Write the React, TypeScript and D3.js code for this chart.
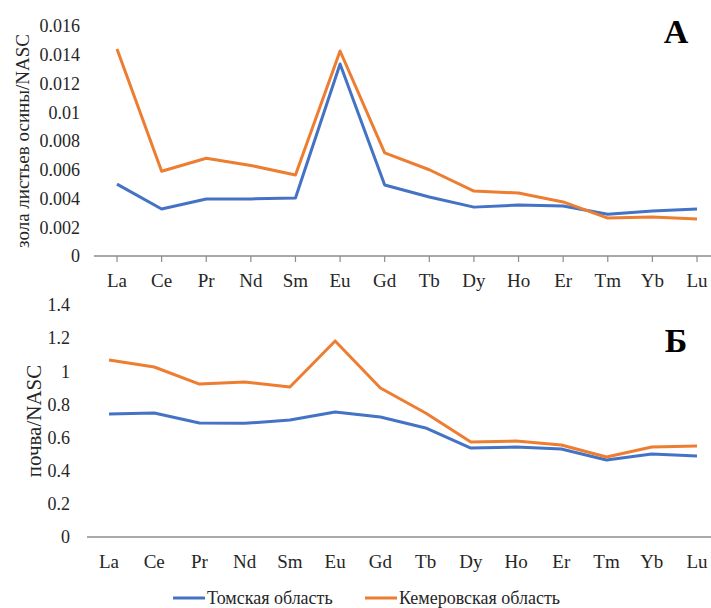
import React from 'react';
import * as d3 from 'd3';

const elements = ['La', 'Ce', 'Pr', 'Nd', 'Sm', 'Eu', 'Gd', 'Tb', 'Dy', 'Ho', 'Er', 'Tm', 'Yb', 'Lu'];

// зола листьев осины / NASC
const ashTomsk = [0.0050, 0.00327, 0.00397, 0.00397, 0.00403, 0.01336, 0.00494, 0.0041, 0.0034, 0.00355, 0.00348, 0.0029, 0.00313, 0.00327];
const ashKemerovo = [0.0144, 0.0059, 0.0068, 0.0063, 0.00563, 0.01426, 0.00717, 0.0060, 0.00452, 0.00438, 0.00376, 0.00264, 0.00271, 0.00257];
const ashTicks = [0, 0.002, 0.004, 0.006, 0.008, 0.01, 0.012, 0.014, 0.016];

// почва / NASC
const soilTomsk = [0.742, 0.748, 0.688, 0.686, 0.706, 0.754, 0.724, 0.658, 0.537, 0.543, 0.531, 0.465, 0.501, 0.489];
const soilKemerovo = [1.068, 1.026, 0.923, 0.935, 0.905, 1.183, 0.899, 0.748, 0.573, 0.579, 0.555, 0.483, 0.543, 0.549];
const soilTicks = [0, 0.2, 0.4, 0.6, 0.8, 1, 1.2, 1.4];

const seriesNames = ['Томская область', 'Кемеровская область'];
const BLUE = '#4472C4';
const ORANGE = '#ED7D31';
const FONT = '"Liberation Serif", "Times New Roman", serif';
const TEXT = '#262626';

interface PanelProps {
  blue: number[];
  orange: number[];
  ticks: number[];
  yMax: number;
  xRange: [number, number];
  yRange: [number, number];
  axisLeft: number;
  labelRight: number;
  title: string;
  titleX: number;
  titleSize: number;
  letter: string;
  letterY: number;
  showTicks: boolean;
  fmt: (v: number) => string;
}

const Panel = ({ blue, orange, ticks, yMax, xRange, yRange, axisLeft, labelRight, title, titleX, titleSize, letter, letterY, showTicks, fmt }: PanelProps) => {
  const x = d3.scalePoint<string>().domain(elements).range(xRange);
  const y = d3.scaleLinear().domain([0, yMax]).range(yRange);
  const line = d3.line<number>()
    .x((_, i) => x(elements[i]) as number)
    .y(d => y(d));
  const y0 = y(0);
  const midY = (yRange[0] + yRange[1]) / 2;

  return (
    <g>
      {ticks.map(t => (
        <text key={t} x={labelRight} y={y(t)} dy="0.35em" textAnchor="end"
          fontFamily={FONT} fontSize={18} fill={TEXT}>{fmt(t)}</text>
      ))}
      <line x1={axisLeft} x2={711} y1={y0} y2={y0} stroke="#8c8c8c" strokeWidth={1.5} />
      {showTicks && elements.map(e => (
        <line key={e} x1={x(e)} x2={x(e)} y1={y0} y2={y0 + 6} stroke="#8c8c8c" strokeWidth={1.2} />
      ))}
      {elements.map(e => (
        <text key={e} x={x(e)} y={y0 + 24} dy="0.35em" textAnchor="middle"
          fontFamily={FONT} fontSize={19} fill={TEXT}>{e}</text>
      ))}
      <path d={line(blue) || ''} fill="none" stroke={BLUE} strokeWidth={3} strokeLinejoin="round" />
      <path d={line(orange) || ''} fill="none" stroke={ORANGE} strokeWidth={3} strokeLinejoin="round" />
      <text transform={`translate(${titleX},${midY}) rotate(-90)`} textAnchor="middle" dy="0.35em"
        fontFamily={FONT} fontSize={titleSize} fill={TEXT}>{title}</text>
      <text x={676} y={letterY} textAnchor="middle" fontFamily={FONT} fontSize={34}
        fontWeight="bold" fill="#000">{letter}</text>
    </g>
  );
};

export default function App() {
  return (
    <svg width={711} height={608} style={{ position: 'absolute', left: 0, top: 0, background: '#fff' }}>
      <Panel blue={ashTomsk} orange={ashKemerovo} ticks={ashTicks} yMax={0.016}
        xRange={[117, 697]} yRange={[256, 26]} axisLeft={94} labelRight={80}
        title="зола листьев осины/NASC" titleX={22} titleSize={19} letter="A" letterY={43}
        showTicks={true} fmt={v => (v === 0 ? '0' : String(v))} />
      <Panel blue={soilTomsk} orange={soilKemerovo} ticks={soilTicks} yMax={1.4}
        xRange={[109, 697]} yRange={[537, 305]} axisLeft={87} labelRight={70}
        title="почва/NASC" titleX={34} titleSize={21} letter="Б" letterY={352}
        showTicks={false} fmt={v => String(v)} />
      <g fontFamily={FONT} fontSize={18} fill={TEXT}>
        <line x1={173} x2={205} y1={598} y2={598} stroke={BLUE} strokeWidth={3} />
        <text x={207} y={598} dy="0.35em">{seriesNames[0]}</text>
        <line x1={365} x2={397} y1={598} y2={598} stroke={ORANGE} strokeWidth={3} />
        <text x={399} y={598} dy="0.35em">{seriesNames[1]}</text>
      </g>
    </svg>
  );
}
